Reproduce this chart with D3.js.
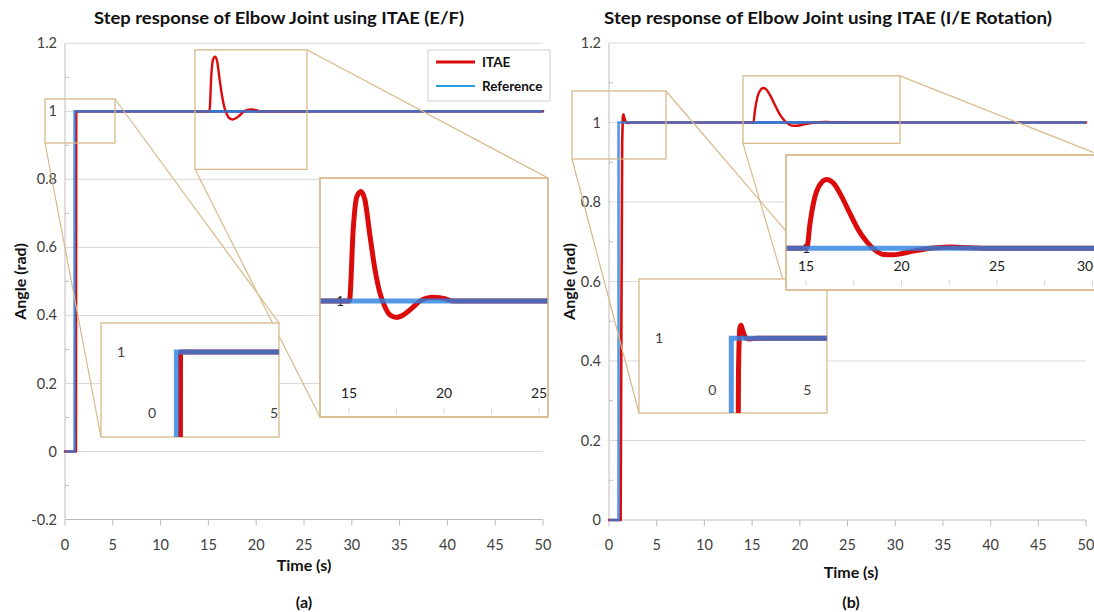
<!DOCTYPE html>
<html><head><meta charset="utf-8">
<script src="https://cdnjs.cloudflare.com/ajax/libs/d3/7.8.5/d3.min.js"></script>
<style>body{margin:0;background:#fff}svg{display:block;font-family:Lato,'Open Sans',sans-serif}</style>
</head><body><svg id="c" width="1094" height="612"></svg>
<script>
// ---------------- DATA ----------------
const mainXTicks = [0,5,10,15,20,25,30,35,40,45,50];
const yTicksA = [-0.2,0,0.2,0.4,0.6,0.8,1,1.2];
const yLabelsA = ["-0.2","0","0.2","0.4","0.6","0.8","1","1.2"];
const yTicksB = [0,0.2,0.4,0.6,0.8,1,1.2];
const yLabelsB = ["0","0.2","0.4","0.6","0.8","1","1.2"];

// main step responses
const timeRefA = [0,1,1,50];
const refA     = [0,0,1,1];
const timeItaeA = [0,1.14,1.17,50];
const itaeA     = [0,0,1,1];
const timeRefB = [0,1,1,50];
const refB     = [0,0,1,1];
const timeItaeB = [0,1.22,1.3,1.38,1.45,1.51,1.6,1.7,1.8,2.0,2.3,50];
const itaeB     = [0,0,0.5,0.95,1.015,1.02,1.012,1.004,1.0,0.999,1.0,1.0];

// magnified overshoot insets
const zoomTimeA = [13,15,15.02,15.23,15.41,15.63,15.84,16.11,16.37,16.63,16.89,17.16,17.51,17.86,18.30,18.74,19.09,19.44,19.79,20.14,20.49,26];
const zoomItaeA = [1,1,1.0,1.0181,1.0254,1.0267,1.0246,1.0157,1.0076,1.0019,0.9986,0.9966,0.9960,0.9966,0.9982,1.0,1.0007,1.0009,1.0008,1.0004,1.0,1];
const zoomTimeB = [13,15,15.04,15.21,15.47,15.82,16.08,16.43,16.87,17.30,17.74,18.18,18.61,19.05,19.57,20.09,20.62,21.32,22.02,22.54,23.06,23.76,24.81,32];
const zoomItaeB = [1,1,1.0,1.0061,1.0126,1.0161,1.0168,1.0159,1.0126,1.0085,1.0045,1.0016,0.9996,0.9985,0.9984,0.9988,0.9993,0.9999,1.0002,1.0003,1.0002,1.0001,1.0,1];
const zoomTimeRef = [13,32];
const zoomRef     = [1,1];

const zoomLabelsA = [15,20,25];
const zoomLabelsB = [15,20,25,30];
const zoomMinorTicks = [15,17.5,20,22.5,25,27.5,30];
const stepLabels = [0,5];

const seriesNames = ["ITAE","Reference"];

// ---------------- STYLE ----------------
const RED="#dc0b0b", BLUE="#2b80e0", LEGBLUE="#2a9ce0", TAN="#d8b98a", GRID="#d9d9d9", AXIS="#bcbcbc", TXT="#404040";
const svg = d3.select("#c");
let clipN = 0;

function pathOf(xs, ys, t, v, curve){
  return d3.line().x(d=>xs(d[0])).y(d=>ys(d[1])).curve(curve||d3.curveLinear)(d3.zip(t, v));
}
function drawPair(g, xs, ys, tI, vI, tR, vR, w, curve){
  g.append("path").attr("d", pathOf(xs,ys,tI,vI,curve)).attr("fill","none")
    .attr("stroke",RED).attr("stroke-width",w).attr("stroke-linejoin","round").attr("stroke-linecap","round");
  g.append("path").attr("d", pathOf(xs,ys,tR,vR)).attr("fill","none")
    .attr("stroke",BLUE).attr("stroke-opacity",0.8).attr("stroke-width",w);
}
function clipGroup(box){
  const id = "clip"+(clipN++);
  svg.append("clipPath").attr("id",id).append("rect")
    .attr("x",box.x).attr("y",box.y).attr("width",box.w).attr("height",box.h);
  return svg.append("g").attr("clip-path",`url(#${id})`);
}
function rectBox(box, fill){
  svg.append("rect").attr("x",box.x).attr("y",box.y).attr("width",box.w).attr("height",box.h)
    .attr("fill",fill).attr("stroke",TAN).attr("stroke-width",1.3);
}
function connector(a,b){
  svg.append("line").attr("x1",a[0]).attr("y1",a[1]).attr("x2",b[0]).attr("y2",b[1])
    .attr("stroke",TAN).attr("stroke-width",1.2);
}

function drawMain(p){
  const x=p.x, y=p.y, x0=x.range()[0], x1=x.range()[1];
  const yBottom = y.range()[0], yTop = y.range()[1];
  p.yTicks.forEach((t,i)=>{
    svg.append("line").attr("x1",x0).attr("x2",x1).attr("y1",y(t)).attr("y2",y(t))
      .attr("stroke", i===0?AXIS:GRID).attr("stroke-width",1);
    svg.append("text").attr("x",x0-8).attr("y",y(t)).attr("dy","0.35em").attr("text-anchor","end")
      .attr("font-size",14.5).attr("fill",TXT).text(p.yLabels[i]);
    if(i>0){
      const m=(t+p.yTicks[i-1])/2;
      svg.append("line").attr("x1",x0).attr("x2",x0+4).attr("y1",y(m)).attr("y2",y(m)).attr("stroke",AXIS);
    }
  });
  svg.append("line").attr("x1",x0).attr("x2",x0).attr("y1",yTop).attr("y2",yBottom).attr("stroke",AXIS);
  mainXTicks.forEach(t=>{
    svg.append("line").attr("x1",x(t)).attr("x2",x(t)).attr("y1",yBottom).attr("y2",yBottom+6).attr("stroke",AXIS);
    svg.append("text").attr("x",x(t)).attr("y",550).attr("text-anchor","middle")
      .attr("font-size",14.5).attr("fill",TXT).text(t);
  });
  svg.append("text").attr("x",p.titleX).attr("y",24).attr("text-anchor","middle")
    .attr("font-size",17).attr("font-weight","bold").attr("fill","#111")
    .attr("textLength",p.titleW).attr("lengthAdjust","spacingAndGlyphs").text(p.title);
  svg.append("text").attr("x",p.xTitleX).attr("y",p.xTitleY).attr("text-anchor","middle")
    .attr("font-size",16).attr("font-weight","bold").attr("fill","#111").text("Time (s)");
  svg.append("text").attr("transform",`translate(${p.yTitleX},${(yTop+yBottom)/2}) rotate(-90)`)
    .attr("dy","0.35em").attr("text-anchor","middle")
    .attr("font-size",16).attr("font-weight","bold").attr("fill","#111").text("Angle (rad)");
  svg.append("text").attr("x",p.xTitleX).attr("y",608).attr("text-anchor","middle")
    .attr("font-size",16).attr("font-weight","bold").attr("fill","#111").text(p.cap);
  drawPair(svg.append("g"), x, y, p.tI, p.vI, p.tR, p.vR, 2.6);
}

function drawPanel(p){
  drawMain(p);
  const bz = p.bigBox;
  const bx = d3.scaleLinear().domain([15,25]).range(p.bigXRange);
  const by = d3.scaleLinear().domain(p.bigYDomain).range(p.bigYRange);
  const sx = p.smallScale[0], sy = p.smallScale[1];
  const sBox = {x:p.smallX, w:bz.w*sx, h:bz.h*sy};
  sBox.y = p.y(1) - (by(1)-bz.y)*sy;
  const smx = d3.scaleLinear().domain(bx.domain()).range(bx.range().map(r=>sBox.x+(r-bz.x)*sx));
  const smy = d3.scaleLinear().domain(by.domain()).range(by.range().map(r=>sBox.y+(r-bz.y)*sy));
  const st = p.stepBox, sb = p.stepInset;
  const stx = d3.scaleLinear().domain([0,5]).range(p.stepXRange);
  const sty = d3.scaleLinear().domain(p.stepYDomain).range(p.stepYRange);

  connector([st.x, st.y+st.h],[sb.x, sb.y+sb.h]);
  connector([st.x+st.w, st.y],[sb.x+sb.w, sb.y]);
  connector([sBox.x, sBox.y+sBox.h],[bz.x, bz.y+bz.h]);
  connector([sBox.x+sBox.w, sBox.y],[bz.x+bz.w, bz.y]);

  rectBox(st,"none");
  drawPair(clipGroup(sBox), smx, smy, p.zT, p.zV, zoomTimeRef, zoomRef, 2.4, d3.curveMonotoneX);
  rectBox(sBox,"none");

  rectBox(sb,"#fff");
  svg.append("text").attr("x",p.stepOneX).attr("y",sty(1)).attr("dy","0.35em").attr("text-anchor","middle")
    .attr("font-size",14).attr("fill",TXT).text("1");
  stepLabels.forEach(t=>{
    svg.append("text").attr("x",stx(t)).attr("y",p.stepLabelY).attr("dy","0.35em").attr("text-anchor","middle")
      .attr("font-size",14).attr("fill",TXT).text(t);
  });
  drawPair(clipGroup(sb), stx, sty, p.tI, p.vI, p.tR, p.vR, 5, d3.curveMonotoneX);

  rectBox(bz,"#fff");
  const gb = clipGroup(bz);
  zoomMinorTicks.forEach(t=>{
    gb.append("line").attr("x1",bx(t)).attr("x2",bx(t)).attr("y1",p.bigTickY).attr("y2",p.bigTickY+6)
      .attr("stroke","#d6d6d6");
  });
  p.zLabels.forEach(t=>{
    const xx = Math.min(bx(t), 1093 - 8);
    gb.append("text").attr("x",xx).attr("y",p.bigLabelY).attr("dy","0.35em").attr("text-anchor","middle")
      .attr("font-size",14).attr("fill","#222").text(t);
  });
  gb.append("text").attr("x",p.bigOneX).attr("y",by(1)).attr("dy","0.35em").attr("text-anchor","middle")
    .attr("font-size",14).attr("fill","#222").text("1");
  drawPair(gb, bx, by, p.zT, p.zV, zoomTimeRef, zoomRef, 5, d3.curveMonotoneX);
  rectBox(bz,"none");
}

drawPanel({
  x: d3.scaleLinear().domain([0,50]).range([65,543]),
  y: d3.scaleLinear().domain([-0.2,1.2]).range([519.5,43.3]),
  yTicks: yTicksA, yLabels: yLabelsA,
  title: "Step response of Elbow Joint using ITAE (E/F)", titleX: 279, titleW: 370,
  xTitleX: 304, xTitleY: 571, yTitleX: 20, cap: "(a)",
  tI: timeItaeA, vI: itaeA, tR: timeRefA, vR: refA,
  zT: zoomTimeA, zV: zoomItaeA, zLabels: zoomLabelsA,
  bigBox: {x:320, y:178, w:228, h:239},
  bigXRange: [349,539], bigYDomain: [0.97,1.03], bigYRange: [424,178],
  bigTickY: 408, bigLabelY: 393, bigOneX: 340,
  smallX: 195, smallScale: [0.491,0.5],
  stepBox: {x:45, y:99, w:70, h:44},
  stepInset: {x:101, y:323, w:178, h:114},
  stepXRange: [152,274], stepYDomain: [0.9,1.02], stepYRange: [437,335],
  stepOneX: 121, stepLabelY: 413
});

drawPanel({
  x: d3.scaleLinear().domain([0,50]).range([609,1086]),
  y: d3.scaleLinear().domain([0,1.2]).range([520,43]),
  yTicks: yTicksB, yLabels: yLabelsB,
  title: "Step response of Elbow Joint using ITAE (I/E Rotation)", titleX: 828, titleW: 448,
  xTitleX: 851, xTitleY: 578, yTitleX: 569, cap: "(b)",
  tI: timeItaeB, vI: itaeB, tR: timeRefB, vR: refB,
  zT: zoomTimeB, zV: zoomItaeB, zLabels: zoomLabelsB,
  bigBox: {x:786, y:155, w:314, h:135},
  bigXRange: [806,997], bigYDomain: [0.98,1.02], bigYRange: [330.3,166.3],
  bigTickY: 280, bigLabelY: 266, bigOneX: 806,
  smallX: 743, smallScale: [0.5,0.5],
  stepBox: {x:572, y:91, w:94, h:68},
  stepInset: {x:639, y:279, w:188, h:134},
  stepXRange: [712.3,807.3], stepYDomain: [0.9,1.05], stepYRange: [403.3,305.8],
  stepOneX: 659, stepLabelY: 390
});

// legend (panel a)
const lg = svg.append("g");
lg.append("rect").attr("x",428).attr("y",50).attr("width",122).attr("height",51)
  .attr("fill","#fff").attr("stroke","#cfcfcf");
seriesNames.forEach((n,i)=>{
  const yy = 62 + i*24;
  lg.append("line").attr("x1",436).attr("x2",475).attr("y1",yy).attr("y2",yy)
    .attr("stroke", i===0?RED:LEGBLUE).attr("stroke-width", i===0?3:2);
  lg.append("text").attr("x",482).attr("y",yy).attr("dy","0.35em").attr("font-size",13.5)
    .attr("font-weight","bold").attr("fill","#111").text(n);
});
</script></body></html>
